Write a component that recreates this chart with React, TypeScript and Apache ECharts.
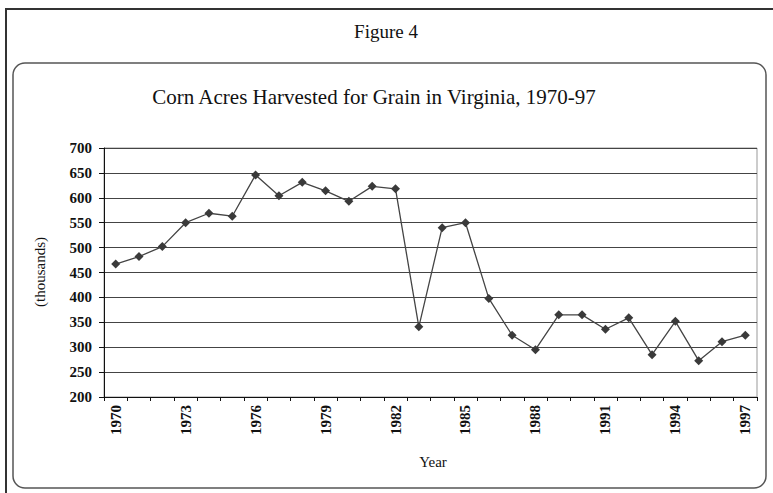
import React, { useEffect, useRef } from "react";
import * as echarts from "echarts";

const years: string[] = [
  "1970","1971","1972","1973","1974","1975","1976","1977","1978","1979",
  "1980","1981","1982","1983","1984","1985","1986","1987","1988","1989",
  "1990","1991","1992","1993","1994","1995","1996","1997",
];
const acres: number[] = [
  467, 482, 502, 550, 569, 563, 646, 604, 631, 614,
  593, 623, 618, 341, 540, 550, 398, 324, 295, 365,
  365, 336, 359, 285, 352, 273, 311, 324,
];
const figureLabel = "Figure 4";
const chartTitle = "Corn Acres Harvested for Grain in Virginia, 1970-97";
const yTitle = "(thousands)";
const xTitle = "Year";

const serif = "'Liberation Serif', 'DejaVu Serif', serif";

export default function App() {
  const ref = useRef<HTMLDivElement>(null);
  useEffect(() => {
    if (!ref.current) return;
    const chart = echarts.init(ref.current, null, { renderer: "svg" });
    chart.setOption({
      animation: false,
      backgroundColor: "#fff",
      graphic: [
        {
          type: "rect",
          shape: { x: 6, y: 9, width: 820, height: 520 },
          style: { fill: "none", stroke: "#333", lineWidth: 2 },
          silent: true,
        },
        {
          type: "rect",
          shape: { x: 13, y: 63, width: 753, height: 425, r: 12 },
          style: { fill: "none", stroke: "#555", lineWidth: 1.5 },
          silent: true,
        },
        {
          type: "text",
          x: 386,
          y: 31,
          style: {
            text: figureLabel,
            font: `19px ${serif}`,
            fill: "#111",
            align: "center",
            verticalAlign: "middle",
          },
        },
        {
          type: "text",
          x: 374,
          y: 97,
          style: {
            text: chartTitle,
            font: `21px ${serif}`,
            fill: "#111",
            align: "center",
            verticalAlign: "middle",
          },
        },
        {
          type: "text",
          x: 40,
          y: 272,
          rotation: Math.PI / 2,
          style: {
            text: yTitle,
            font: `15px ${serif}`,
            fill: "#111",
            align: "center",
            verticalAlign: "middle",
          },
        },
        {
          type: "text",
          x: 433,
          y: 462,
          style: {
            text: xTitle,
            font: `15px ${serif}`,
            fill: "#111",
            align: "center",
            verticalAlign: "middle",
          },
        },
      ],
      grid: {
        left: 104,
        right: 16,
        top: 148,
        bottom: 96,
        show: true,
        borderColor: "#999",
        borderWidth: 1,
        backgroundColor: "transparent",
      },
      xAxis: {
        type: "category",
        data: years,
        boundaryGap: true,
        axisLine: { show: true, lineStyle: { color: "#111", width: 1 } },
        axisTick: { show: true, interval: 0, length: 4, lineStyle: { color: "#111" } },
        axisLabel: {
          interval: 2,
          rotate: 90,
          margin: 8,
          fontFamily: serif,
          fontWeight: "bold",
          fontSize: 15,
          color: "#111",
        },
        splitLine: { show: false },
      },
      yAxis: {
        type: "value",
        min: 200,
        max: 700,
        interval: 50,
        axisLine: { show: true, lineStyle: { color: "#111", width: 1 } },
        axisTick: { show: true, length: 5, lineStyle: { color: "#111" } },
        axisLabel: {
          margin: 12,
          fontFamily: serif,
          fontWeight: "bold",
          fontSize: 15,
          color: "#111",
        },
        splitLine: { show: true, lineStyle: { color: "#444", width: 1 } },
      },
      series: [
        {
          type: "line",
          data: acres,
          symbol: "diamond",
          symbolSize: 9,
          itemStyle: { color: "#3a3a3a" },
          lineStyle: { color: "#444", width: 1.3 },
        },
      ],
    });
    return () => chart.dispose();
  }, []);
  return (
    <div
      ref={ref}
      style={{ position: "absolute", left: 0, top: 0, width: 773, height: 493 }}
    />
  );
}
